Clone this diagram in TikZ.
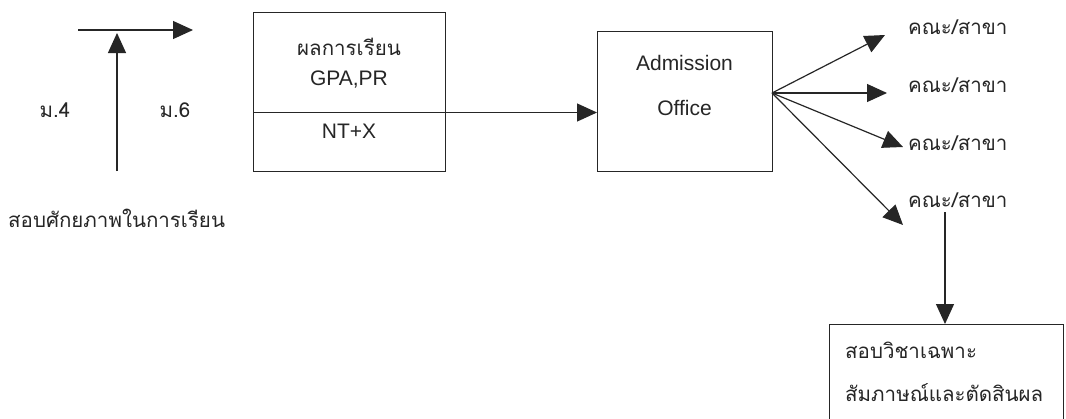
\documentclass[tikz,border=0pt]{standalone}
\usepackage{fontspec}
\setmainfont{Liberation Sans}
\newfontfamily\thaifont[Script=Thai]{Loma}
\usetikzlibrary{arrows.meta}
\begin{document}
\begin{tikzpicture}[x=1pt,y=-1pt,
  line/.style={line width=1.2pt, draw=black!85},
  arr/.style={line, -{Triangle[length=20pt,width=18pt]}},
  box/.style={draw=black!85, line width=1.2pt, inner sep=0pt, anchor=north west},
  lat/.style={font=\fontsize{21}{24}\selectfont, inner sep=0pt, text=black!85},
  th/.style={font=\thaifont\fontsize{20.5}{24}\selectfont, inner sep=0pt, text=black!85}]
\clip (0,0) rectangle (1066,418);
\fill[white] (0,0) rectangle (1066,418);
% left part
\coordinate (h0) at (78,30);
\coordinate (h1) at (193,30);
\draw[arr] (h0) -- (h1);
\coordinate (v0) at (117,171);
\coordinate (v1) at (117,33);
\draw[arr] (v0) -- (v1);
\node[th] (m4) at (55,110) {ม.4};
\node[th] (m6) at (175,110) {ม.6};
\node[th, anchor=west] (apt) at (8,218) {สอบศักยภาพในการเรียน};
% results box
\node[box, minimum width=192pt, minimum height=159pt] (res) at (253,12) {};
\coordinate (mid) at (445,112.5);
\draw[line] (mid -| res.west) -- (mid);
\node[th] (r1) at (349,47) {ผลการเรียน};
\node[lat] (r2) at (349,80) {GPA,PR};
\node[lat] (r3) at (349,131) {NT+X};
% admission box
\node[box, minimum width=175pt, minimum height=140pt] (adm) at (597,31) {};
\node[lat] (a1) at (684.5,63) {Admission};
\node[lat] (a2) at (684.5,108) {Office};
\draw[arr] (mid) -- (mid -| adm.west);
% fan
\coordinate (fan) at (772,93);
\coordinate (t1) at (885,35);
\coordinate (t2) at (887,93);
\coordinate (t3) at (903,147);
\coordinate (t4) at (903,225);
\draw[arr] (fan) -- (t1);
\draw[arr] (fan) -- (t2);
\draw[arr] (fan) -- (t3);
\draw[arr] (fan) -- (t4);
\node[th, anchor=west] (k1) at (908,27) {คณะ/สาขา};
\node[th, anchor=west] (k2) at (908,85) {คณะ/สาขา};
\node[th, anchor=west] (k3) at (908,143) {คณะ/สาขา};
\node[th, anchor=west] (k4) at (908,200) {คณะ/สาขา};
% bottom box
\node[box, minimum width=234pt, minimum height=110pt] (bot) at (829,324) {};
\coordinate (d) at (945,212);
\draw[arr] (d) -- (d |- bot.north);
\node[th, anchor=west] (b1) at (845,350) {สอบวิชาเฉพาะ};
\node[th, anchor=west] (b2) at (845,393) {สัมภาษณ์และตัดสินผล};
\end{tikzpicture}
\end{document}
